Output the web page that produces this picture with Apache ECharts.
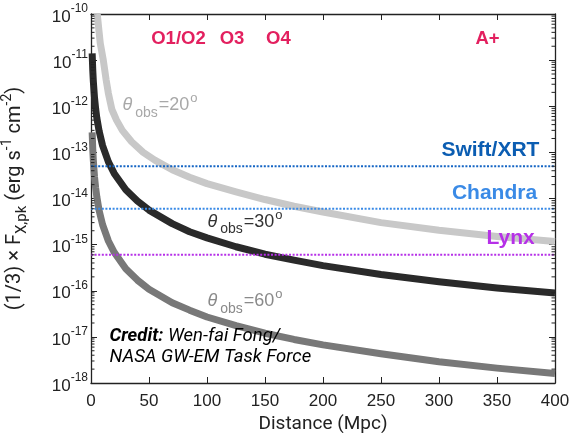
<!DOCTYPE html>
<html><head><meta charset="utf-8">
<script src="https://cdn.jsdelivr.net/npm/echarts@6/dist/echarts.min.js"></script>
<style>html,body{margin:0;padding:0;background:#fff}#c{width:569px;height:433px}</style>
</head><body><div id="c"></div>
<script>
// ---- data ----
const xMin = 0, xMax = 400, xStep = 50;
const yMin = 1e-18, yMax = 1e-10;

const dist20 = [5.4, 7, 8, 10.6, 13, 15, 18, 22, 27, 35, 45, 55, 70, 85, 100, 125, 150, 175, 200, 250, 300, 350, 400];
const flux20 = [1.0e-10, 4.0e-11, 2.3e-11, 1.0e-11, 3.8e-12, 1.9e-12, 8.5e-13, 5.0e-13, 3.0e-13, 1.7e-13, 1.0e-13, 6.8e-14, 4.2e-14, 2.9e-14, 2.1e-14, 1.4e-14, 9.5e-15, 6.8e-15, 5.1e-15, 3.0e-15, 2.05e-15, 1.5e-15, 1.17e-15];

const dist30 = [1, 1.5, 2, 3, 4, 5, 7, 10, 15, 20, 30, 40, 50, 70, 85, 100, 125, 150, 175, 200, 250, 300, 350, 400];
const flux30 = [1.4e-11, 6.2e-12, 3.5e-12, 1.55e-12, 8.8e-13, 5.6e-13, 2.9e-13, 1.4e-13, 6.2e-14, 3.5e-14, 1.55e-14, 8.8e-15, 5.6e-15, 2.85e-15, 1.9e-15, 1.4e-15, 9.0e-16, 6.2e-16, 4.6e-16, 3.5e-16, 2.25e-16, 1.56e-16, 1.15e-16, 8.9e-17];

const dist60 = [1, 1.5, 2, 3, 4, 5, 7, 10, 15, 20, 30, 40, 50, 70, 85, 100, 125, 150, 175, 200, 250, 300, 350, 400];
const flux60 = [2.7e-13, 1.2e-13, 6.8e-14, 3.0e-14, 1.7e-14, 1.1e-14, 5.5e-15, 2.7e-15, 1.2e-15, 6.8e-16, 3.0e-16, 1.7e-16, 1.08e-16, 5.5e-17, 3.8e-17, 2.7e-17, 1.75e-17, 1.2e-17, 8.8e-18, 6.7e-18, 4.3e-18, 2.9e-18, 2.1e-18, 1.6e-18];

const detectorNames  = ['Swift/XRT', 'Chandra', 'Lynx'];
const detectorLimits = [5.0e-14, 6.0e-15, 6.0e-16];
const detectorColors = ['#1565c4', '#3a8ae6', '#b630e8'];
const detectorTextColors = ['#0b5db2', '#3a8ae6', '#b630e8'];
const detectorLabelD = [387, 385, 383];
const detectorLabelF = [1.12e-13, 1.28e-14, 1.35e-15];

const runNames = ['O1/O2', 'O3', 'O4', 'A+'];
const runLabelD = [75.4, 121.6, 161.6, 341.8];
const runLabelF = 2.9e-11;

const angleNames = ['20', '30', '60'];
const angleLabelD = [26.7, 100, 100];
const angleLabelF = [1.06e-12, 3.16e-15, 5.96e-17];
const angleColors = ['#a8a8a8', '#333333', '#8a8a8a'];

const creditD = 15.5, creditF = 6.1e-18;

const decades = [-18, -17, -16, -15, -14, -13, -12, -11];
const minorMultipliers = [2, 3, 4, 5, 6, 7, 8, 9];
// ---------------------------------------

const AX = '#222222';
const FONT = 'Liberation Sans';
const minorTickValues = [];
decades.forEach(e => minorMultipliers.forEach(m => minorTickValues.push([xMin, m * Math.pow(10, e)])));
const zip = (a, b) => a.map((v, i) => [v, b[i]]);

function curve(d, f, color) {
  return { type: 'line', data: zip(d, f), showSymbol: false, smooth: false,
    lineStyle: { color: color, width: 7, cap: 'butt', join: 'round' }, silent: true, z: 2 };
}

const series = [
  curve(dist20, flux20, '#c8c8c8'),
  curve(dist30, flux30, '#2a2a2a'),
  curve(dist60, flux60, '#787878'),
];
detectorLimits.forEach((v, i) => series.push({
  type: 'line', data: [[xMin, v], [xMax, v]], showSymbol: false, silent: true, z: 3,
  lineStyle: { color: detectorColors[i], width: 2, type: [2, 1.6] }
}));
series.push({
  type: 'custom', data: minorTickValues, silent: true, clip: false, z: 5,
  renderItem: (params, api) => {
    const v = api.value(1);
    const pL = api.coord([xMin, v]), pR = api.coord([xMax, v]);
    return { type: 'group', children: [
      { type: 'line', shape: { x1: pL[0], y1: pL[1], x2: pL[0] + 3.5, y2: pL[1] }, style: { stroke: AX, lineWidth: 1 } },
      { type: 'line', shape: { x1: pR[0], y1: pR[1], x2: pR[0] - 3.5, y2: pR[1] }, style: { stroke: AX, lineWidth: 1 } }
    ] };
  }
});
function textSeries(points, labelOpt) {
  return { type: 'scatter', data: points, symbolSize: 1, itemStyle: { color: 'rgba(0,0,0,0)', opacity: 1 }, silent: true, z: 6,
    label: Object.assign({ show: true }, labelOpt) };
}
series.push(textSeries(runNames.map((n, i) => ({ value: [runLabelD[i], runLabelF], name: n })), {
  position: 'inside', formatter: p => p.name, color: '#e3205f', fontSize: 18.5, fontWeight: 'bold', fontFamily: FONT
}));
series.push(textSeries(detectorNames.map((n, i) => ({ value: [detectorLabelD[i], detectorLabelF[i]], name: n,
  label: { color: detectorTextColors[i] } })), {
  position: 'left', distance: 0, formatter: p => p.name, fontSize: 21, fontWeight: 'bold', fontFamily: FONT
}));
series.push(textSeries(angleNames.map((n, i) => ({ value: [angleLabelD[i], angleLabelF[i]], name: n,
  label: { color: angleColors[i] } })), {
  position: 'right', distance: 0,
  formatter: p => '{t|θ}{sub|obs}{n|=' + p.name + '}{sup|o}',
  fontFamily: FONT,
  rich: {
    t: { fontSize: 18, fontStyle: 'italic', lineHeight: 30, fontFamily: FONT },
    sub: { fontSize: 14, lineHeight: 14, verticalAlign: 'bottom', padding: [0, 1, 0, 3], fontFamily: FONT },
    n: { fontSize: 18, lineHeight: 30, fontFamily: FONT },
    sup: { fontSize: 13, lineHeight: 13, verticalAlign: 'top', padding: [2, 0, 0, 1], fontFamily: FONT }
  }
}));
series.push(textSeries([{ value: [creditD, creditF] }], {
  position: 'right', distance: 0, color: '#000',
  formatter: () => '{b|Credit:}{i| Wen-fai Fong/}\n{i|NASA GW-EM Task Force}',
  rich: {
    b: { fontFamily: 'Roboto', fontSize: 18.5, fontStyle: 'italic', fontWeight: 'bold', lineHeight: 21, color: '#000' },
    i: { fontFamily: 'Roboto', fontSize: 18.5, fontStyle: 'italic', lineHeight: 21, color: '#000' }
  }
}));

const xAxisBase = {
  type: 'value', min: xMin, max: xMax, interval: xStep, splitLine: { show: false },
  axisLine: { show: true, onZero: false, lineStyle: { color: AX, width: 1.3 } },
  axisTick: { show: true, inside: true, length: 6, lineStyle: { color: AX, width: 1 } }
};
const yAxisBase = {
  type: 'log', logBase: 10, min: yMin, max: yMax, splitNumber: 8, splitLine: { show: false },
  axisLine: { show: true, onZero: false, lineStyle: { color: AX, width: 1.3 } },
  axisTick: { show: true, inside: true, length: 6, lineStyle: { color: AX, width: 1 } }
};

const option = {
  animation: false,
  backgroundColor: '#fff',
  grid: { left: 91, right: 14, top: 14, bottom: 50, containLabel: false, outerBoundsMode: 'none' },
  xAxis: [
    Object.assign({}, xAxisBase, { position: 'bottom',
      axisLabel: { fontSize: 17, color: AX, margin: 10, fontFamily: FONT },
      name: 'Distance (Mpc)', nameLocation: 'middle', nameGap: 31,
      nameTextStyle: { fontSize: 19, color: AX, fontFamily: 'Roboto' } }),
    Object.assign({}, xAxisBase, { position: 'top', axisLabel: { show: false } })
  ],
  yAxis: [
    Object.assign({}, yAxisBase, { position: 'left',
      axisLabel: { margin: 3, color: AX, fontFamily: FONT,
        formatter: v => '{b|10}{s|' + Math.round(Math.log10(v)) + '}',
        rich: { b: { fontSize: 17, lineHeight: 22, color: AX, fontFamily: FONT, padding: [6, 0, 0, 0] },
                s: { fontSize: 12, lineHeight: 12, verticalAlign: 'top', color: AX, fontFamily: FONT } } },
      name: '(1/3) × F{sub|X,pk} (erg s{sup|-1} cm{sup|-2})', nameLocation: 'middle', nameGap: 61, nameRotate: 90,
      nameTextStyle: { fontSize: 20, color: AX, fontFamily: 'Roboto', lineHeight: 30,
        rich: { sub: { fontSize: 15, lineHeight: 15, verticalAlign: 'bottom', fontFamily: 'Roboto', color: AX },
                sup: { fontSize: 14, lineHeight: 14, verticalAlign: 'top', fontFamily: 'Roboto', color: AX } } } }),
    Object.assign({}, yAxisBase, { position: 'right', axisLabel: { show: false } })
  ],
  series: series
};
const chart = echarts.init(document.getElementById('c'), null, { renderer: 'canvas' });
chart.setOption(option);
</script></body></html>
